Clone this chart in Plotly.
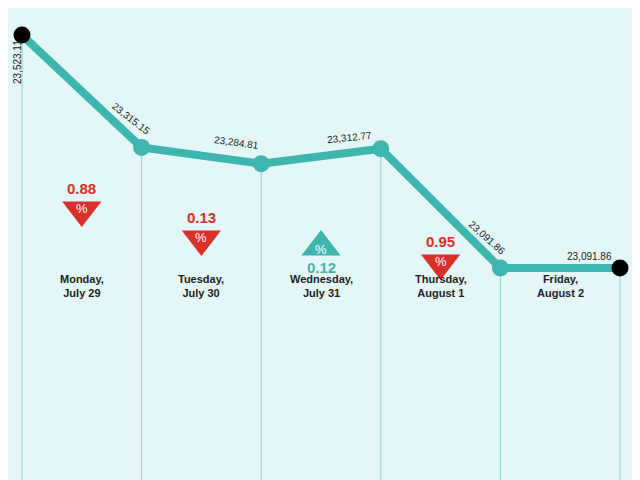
import plotly.graph_objects as go

days = ["Monday,<br>July 29", "Tuesday,<br>July 30", "Wednesday,<br>July 31",
        "Thursday,<br>August 1", "Friday,<br>August 2"]
values = [23523.11, 23315.15, 23284.81, 23312.77, 23091.86, 23091.86]
value_labels = ["23,523.11", "23,315.15", "23,284.81", "23,312.77", "23,091.86", "23,091.86"]
changes = ["0.88", "0.13", "0.12", "0.95", None]
directions = ["down", "down", "up", "down", None]

TEAL = "#3fb5af"
RED = "#d9302a"
Y0, Y1 = 22685, 23573
X0, X1 = -0.117, 5.234
def py(p):  # viewport pixel row -> data value (page has 8px body margin)
    return Y1 - (Y1 - Y0) * (p - 8) / 480
def pxx(p):
    return X0 + (X1 - X0) * (p - 8) / 640

x = list(range(len(values)))
fig = go.Figure()
for i, v in enumerate(values):
    fig.add_shape(type="line", x0=i, x1=i, y0=Y0, y1=v, line=dict(color="#8fd3cf", width=1), layer="below")
fig.add_trace(go.Scatter(x=x, y=values, mode="lines+markers",
    line=dict(color=TEAL, width=8),
    marker=dict(size=17, color=[("black" if i in (0, 5) else TEAL) for i in x], line=dict(width=0))))

lab_pos = [dict(x=pxx(17), y=py(62), textangle=-90),
           dict(x=pxx(131), y=py(118), textangle=38),
           dict(x=pxx(236), y=py(142), textangle=8),
           dict(x=pxx(349), y=py(137), textangle=-6),
           dict(x=pxx(487), y=py(237), textangle=42),
           dict(x=pxx(589), y=py(256), textangle=0)]
for lp, t in zip(lab_pos, value_labels):
    fig.add_annotation(text=t, showarrow=False, font=dict(size=10, color="#222", family="Liberation Sans Narrow, Liberation Sans"), **lp)

tri_y = [210, 239, 247, 263]
for i, (c, d) in enumerate(zip(changes, directions)):
    if c is None:
        continue
    xm = i + 0.5
    col = RED if d == "down" else TEAL
    ty = py(tri_y[i])
    fig.add_trace(go.Scatter(x=[xm], y=[ty], mode="markers",
        marker=dict(symbol="triangle-down" if d == "down" else "triangle-up", size=34, color=col,
                    line=dict(width=0))))
    fig.add_annotation(x=xm, y=ty, text="%", showarrow=False, yshift=2 if d == "down" else -2,
                       font=dict(size=13, color="white", family="Liberation Sans"))
    fig.add_annotation(x=xm, y=ty, text="<b>%s</b>" % c, showarrow=False,
                       yshift=22 if d == "down" else -20,
                       font=dict(size=15, color=col, family="Liberation Sans"))
for i, dname in enumerate(days):
    fig.add_annotation(x=i + 0.5, y=py(286), text="<b>%s</b>" % dname, showarrow=False,
                       font=dict(size=11, color="#222", family="Liberation Sans Narrow, Liberation Sans"))

fig.update_layout(width=640, height=480, margin=dict(l=0, r=0, t=0, b=0),
                  paper_bgcolor="#e4f7f8", plot_bgcolor="#e4f7f8", showlegend=False,
                  xaxis=dict(range=[X0, X1], visible=False),
                  yaxis=dict(range=[Y0, Y1], visible=False))
fig.write_html("out.html")
